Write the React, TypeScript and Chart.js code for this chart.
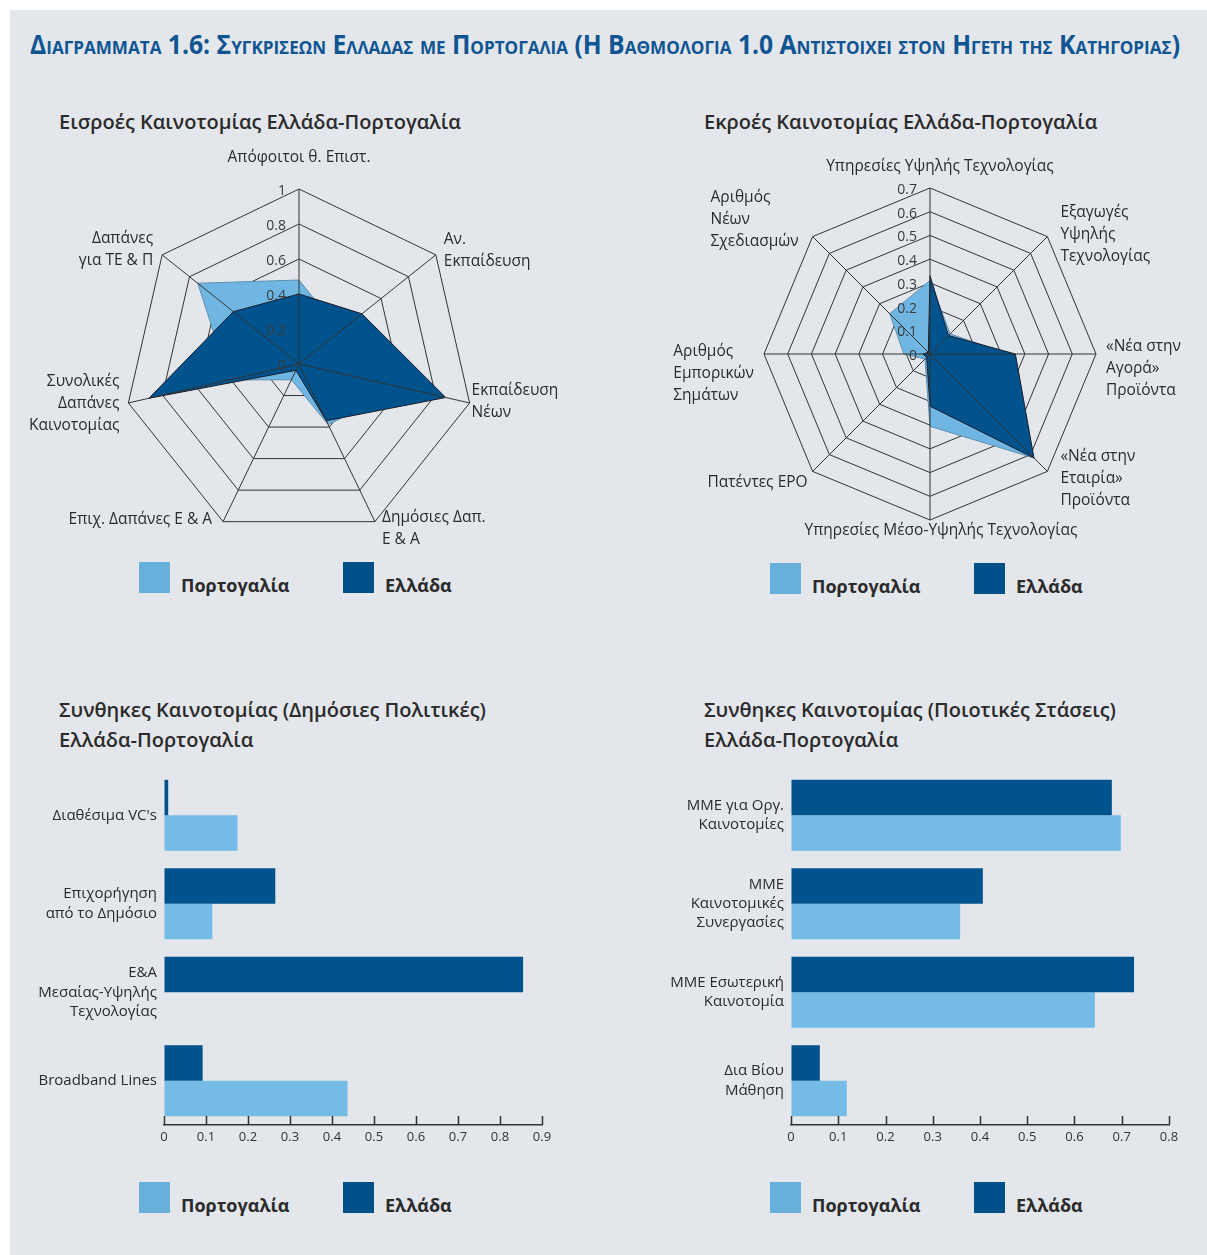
import React, { useEffect, useLayoutEffect, useRef } from "react";
import { Chart, registerables } from "chart.js";
Chart.register(...registerables);

const FONT = "'Open Sans', 'Noto Sans', sans-serif";
const GREECE = "#00538c";
const PORTUGAL = "#74bce6";
const TEXT = "#2b2b2b";
const AXIS = "#333333";

// ---------- Radar 1: inputs ----------
const inputsLabels: string[][] = [
  ["Απόφοιτοι θ. Επιστ."],
  ["Αν.", "Εκπαίδευση"],
  ["Εκπαίδευση", "Νέων"],
  ["Δημόσιες Δαπ.", "Ε & Α"],
  ["Επιχ. Δαπάνες Ε & Α"],
  ["Συνολικές", "Δαπάνες", "Καινοτομίας"],
  ["Δαπάνες", "για ΤΕ & Π"],
];
const inputsGreece = [0.4, 0.46, 0.86, 0.36, 0.04, 0.88, 0.48];
const inputsPortugal = [0.48, 0.3, 0.6, 0.385, 0.1, 0.41, 0.74];
const inputsTickStep = 0.2;
const inputsMax = 1;

// ---------- Radar 2: outputs ----------
const outputsLabels: string[][] = [
  ["Υπηρεσίες Υψηλής Τεχνολογίας"],
  ["Εξαγωγές", "Υψηλής", "Τεχνολογίας"],
  ["«Νέα στην", "Αγορά»", "Προϊόντα"],
  ["«Νέα στην", "Εταιρία»", "Προϊόντα"],
  ["Υπηρεσίες Μέσο-Υψηλής Τεχνολογίας"],
  ["Πατέντες EPO"],
  ["Αριθμός", "Εμπορικών", "Σημάτων"],
  ["Αριθμός", "Νέων", "Σχεδιασμών"],
];
const outputsGreece = [0.33, 0.11, 0.36, 0.62, 0.22, 0.02, 0.03, 0.01];
const outputsPortugal = [0.31, 0.12, 0.33, 0.62, 0.305, 0.03, 0.11, 0.24];
const outputsTickStep = 0.1;
const outputsMax = 0.7;

// ---------- Bar 1: public policies ----------
const policyLabels: string[][] = [
  ["Διαθέσιμα VC's"],
  ["Επιχορήγηση", "από το Δημόσιο"],
  ["Ε&Α", "Μεσαίας-Υψηλής", "Τεχνολογίας"],
  ["Broadband Lines"],
];
const policyGreece = [0.01, 0.265, 0.855, 0.092];
const policyPortugal = [0.175, 0.115, 0, 0.437];
const policyMax = 0.9;

// ---------- Bar 2: qualitative attitudes ----------
const attitudeLabels: string[][] = [
  ["ΜΜΕ για Οργ.", "Καινοτομίες"],
  ["ΜΜΕ", "Καινοτομικές", "Συνεργασίες"],
  ["ΜΜΕ Εσωτερική", "Καινοτομία"],
  ["Δια Βίου", "Μάθηση"],
];
const attitudeGreece = [0.679, 0.406, 0.726, 0.061];
const attitudePortugal = [0.698, 0.358, 0.643, 0.118];
const attitudeMax = 0.8;
const barTickStep = 0.1;

const seriesNames = ["Ελλάδα", "Πορτογαλία"];

// label placement styles (offsets from the vertex of each axis)
type LabelStyle = { h: "L" | "R" | "C"; lines: "left" | "right" | "center"; dx: number; dy: number };
const inputsLabelStyle: LabelStyle[] = [
  { h: "C", lines: "center", dx: 0, dy: -31 },
  { h: "L", lines: "left", dx: 8, dy: -4 },
  { h: "L", lines: "left", dx: 2, dy: -1 },
  { h: "L", lines: "left", dx: 7, dy: 7 },
  { h: "R", lines: "right", dx: -11, dy: -2 },
  { h: "R", lines: "right", dx: -9, dy: 1 },
  { h: "R", lines: "right", dx: -9, dy: -5 },
];
const outputsLabelStyle: LabelStyle[] = [
  { h: "C", lines: "center", dx: 10, dy: -21 },
  { h: "L", lines: "left", dx: 13, dy: -2 },
  { h: "L", lines: "left", dx: 10, dy: 15 },
  { h: "L", lines: "left", dx: 13, dy: 7 },
  { h: "C", lines: "center", dx: 11, dy: 11 },
  { h: "R", lines: "right", dx: -5, dy: 11 },
  { h: "R", lines: "left", dx: -10, dy: 20 },
  { h: "R", lines: "left", dx: -14, dy: -17 },
];

function fmt(v: number) {
  return String(Number(v.toFixed(3)));
}

function radarOverlay(labels: string[][], styles: LabelStyle[]) {
  return {
    id: "radarOverlay",
    afterDatasetsDraw(chart: any) {
      const s = chart.scales.r;
      const ctx = chart.ctx as CanvasRenderingContext2D;
      ctx.save();
      ctx.strokeStyle = AXIS;
      ctx.lineWidth = 1;
      for (let i = 0; i < labels.length; i++) {
        const p = s.getPointPosition(i, s.drawingArea);
        ctx.beginPath();
        ctx.moveTo(s.xCenter, s.yCenter);
        ctx.lineTo(p.x, p.y);
        ctx.stroke();
      }
      ctx.font = `14px ${FONT}`;
      ctx.fillStyle = "#3a3a3a";
      ctx.textAlign = "right";
      ctx.textBaseline = "middle";
      s.ticks.forEach((t: any) => {
        const d = s.getDistanceFromCenterForValue(t.value);
        ctx.fillText(fmt(t.value), s.xCenter - 13, s.yCenter - d + 2);
      });
      ctx.font = `15.5px ${FONT}`;
      ctx.fillStyle = TEXT;
      ctx.textAlign = "left";
      labels.forEach((lines, i) => {
        const p = s.getPointPosition(i, s.drawingArea);
        const st = styles[i];
        const widths = lines.map((l) => ctx.measureText(l).width);
        const bw = Math.max(...widths);
        const ax = p.x + st.dx;
        const cy = p.y + st.dy;
        const left = st.h === "L" ? ax : st.h === "R" ? ax - bw : ax - bw / 2;
        const lh = 22;
        const y0 = cy - ((lines.length - 1) * lh) / 2;
        lines.forEach((ln, k) => {
          let x = left;
          if (st.lines === "right") x = left + bw - widths[k];
          else if (st.lines === "center") x = left + (bw - widths[k]) / 2;
          ctx.fillText(ln, x, y0 + k * lh);
        });
      });
      ctx.restore();
    },
  };
}

function radarConfig(
  labels: string[][],
  greece: number[],
  portugal: number[],
  max: number,
  step: number,
  styles: LabelStyle[],
  padding: { left: number; right: number; top: number; bottom: number }
): any {
  return {
    type: "radar",
    data: {
      labels: labels.map((l) => l.join(" ")),
      datasets: [
        {
          label: seriesNames[0],
          data: greece,
          backgroundColor: GREECE,
          borderColor: "#1b1b2a",
          borderWidth: 1,
          fill: true,
          pointRadius: 0,
          tension: 0,
        },
        {
          label: seriesNames[1],
          data: portugal,
          backgroundColor: "#6fb6e2",
          borderColor: "#5d8fb3",
          borderWidth: 1,
          fill: true,
          pointRadius: 0,
          tension: 0,
        },
      ],
    },
    options: {
      animation: false,
      responsive: false,
      maintainAspectRatio: false,
      layout: { padding },
      plugins: { legend: { display: false }, tooltip: { enabled: false } },
      scales: {
        r: {
          min: 0,
          max,
          ticks: { stepSize: step, display: false },
          pointLabels: { display: false },
          grid: { color: AXIS, lineWidth: 1, circular: false },
          angleLines: { display: false },
        },
      },
    },
    plugins: [radarOverlay(labels, styles)],
  };
}

const upTicks = {
  id: "upTicks",
  afterDraw(chart: any) {
    const s = chart.scales.x;
    const ctx = chart.ctx as CanvasRenderingContext2D;
    ctx.save();
    ctx.strokeStyle = AXIS;
    ctx.lineWidth = 1.5;
    s.ticks.forEach((_t: any, i: number) => {
      const x = Math.round(s.getPixelForTick(i)) + 0.5;
      ctx.beginPath();
      ctx.moveTo(x, s.top);
      ctx.lineTo(x, s.top - 9);
      ctx.stroke();
    });
    ctx.restore();
  },
};

function barConfig(
  labels: string[][],
  greece: number[],
  portugal: number[],
  max: number,
  yWidth: number,
  padRight: number
): any {
  return {
    type: "bar",
    data: {
      labels,
      datasets: [
        { label: seriesNames[0], data: greece, backgroundColor: GREECE, barPercentage: 1, categoryPercentage: 0.8 },
        { label: seriesNames[1], data: portugal, backgroundColor: PORTUGAL, barPercentage: 1, categoryPercentage: 0.8 },
      ],
    },
    options: {
      indexAxis: "y",
      animation: false,
      responsive: false,
      maintainAspectRatio: false,
      layout: { padding: { top: 6, right: padRight, left: 0, bottom: 0 } },
      plugins: { legend: { display: false }, tooltip: { enabled: false } },
      scales: {
        x: {
          min: 0,
          max,
          ticks: {
            stepSize: barTickStep,
            padding: 4,
            color: AXIS,
            font: { family: FONT, size: 13 },
            callback: (v: number) => fmt(v),
          },
          grid: { display: true, drawOnChartArea: false, drawTicks: false },
          border: { display: true, color: AXIS, width: 1.5 },
          afterFit: (s: any) => {
            s.height = 30;
            s.paddingLeft = 0;
            s.paddingRight = 0;
          },
        },
        y: {
          ticks: { padding: 7, color: TEXT, font: { family: FONT, size: 15, lineHeight: 1.27 } },
          grid: { display: false, drawTicks: false },
          border: { display: false },
          afterFit: (s: any) => {
            s.width = yWidth;
            s.paddingTop = 0;
            s.paddingBottom = 0;
          },
        },
      },
    },
    plugins: [upTicks],
  };
}

function ChartBox({ make, left, top, width, height }: any) {
  const ref = useRef<HTMLCanvasElement>(null);
  useEffect(() => {
    const chart = new Chart(ref.current as HTMLCanvasElement, make());
    return () => chart.destroy();
  }, []);
  return (
    <canvas
      ref={ref}
      width={width}
      height={height}
      style={{ position: "absolute", left, top, width, height, display: "block" }}
    />
  );
}

function FitText({ text, left, top, width, style }: any) {
  const ref = useRef<HTMLSpanElement>(null);
  useLayoutEffect(() => {
    const el = ref.current;
    if (!el) return;
    el.style.transform = "none";
    const w = el.getBoundingClientRect().width;
    if (w > 0) el.style.transform = `scaleX(${width / w})`;
  }, []);
  return (
    <span
      ref={ref}
      style={{ position: "absolute", left, top, whiteSpace: "nowrap", transformOrigin: "0 0", display: "inline-block", ...style }}
    >
      {text}
    </span>
  );
}

function Legend({ left, top }: { left: number; top: number }) {
  const sw = 31;
  const txt: React.CSSProperties = {
    position: "absolute",
    top: top + 14,
    fontFamily: FONT,
    fontWeight: 700,
    fontSize: 18,
    lineHeight: "18px",
    color: TEXT,
    whiteSpace: "nowrap",
  };
  return (
    <>
      <div style={{ position: "absolute", left, top, width: sw, height: sw, background: "#68b0dc" }} />
      <div style={{ ...txt, left: left + 42 }}>{seriesNames[1]}</div>
      <div style={{ position: "absolute", left: left + 204, top, width: sw, height: sw, background: "#004f88" }} />
      <div style={{ ...txt, left: left + 246 }}>{seriesNames[0]}</div>
    </>
  );
}

const chartTitle: React.CSSProperties = {
  position: "absolute",
  fontFamily: FONT,
  fontSize: 20,
  fontWeight: 600,
  lineHeight: "30px",
  color: TEXT,
  whiteSpace: "nowrap",
};

export default function App() {
  return (
    <div
      style={{
        position: "absolute",
        left: 10,
        top: 10,
        width: 1197,
        height: 1245,
        background: "#e3e6eb",
        overflow: "hidden",
      }}
    >
      <FitText
        text="Διαγραμματα 1.6: Συγκρισεων Ελλαδας με Πορτογαλια (Η Βαθμολογια 1.0 Αντιστοιχει στον Ηγετη της Κατηγοριας)"
        left={20}
        top={18}
        width={1150}
        style={{
          fontFamily: FONT,
          fontWeight: 700,
          fontSize: 26,
          lineHeight: "32px",
          fontVariant: "small-caps",
          color: "#0f5592",
        }}
      />

      <div style={{ ...chartTitle, left: 49, top: 97 }}>Εισροές Καινοτομίας Ελλάδα-Πορτογαλία</div>
      <div style={{ ...chartTitle, left: 694, top: 97 }}>Εκροές Καινοτομίας Ελλάδα-Πορτογαλία</div>

      <ChartBox
        left={20}
        top={130}
        width={540}
        height={415}
        make={() =>
          radarConfig(inputsLabels, inputsGreece, inputsPortugal, inputsMax, inputsTickStep, inputsLabelStyle, {
            left: 94,
            right: 96,
            top: 49,
            bottom: 16,
          })
        }
      />
      <ChartBox
        left={650}
        top={130}
        width={540}
        height={415}
        make={() =>
          radarConfig(outputsLabels, outputsGreece, outputsPortugal, outputsMax, outputsTickStep, outputsLabelStyle, {
            left: 104,
            right: 104,
            top: 48,
            bottom: 35,
          })
        }
      />

      <Legend left={129} top={552} />
      <Legend left={760} top={553} />

      <div style={{ ...chartTitle, left: 49, top: 685 }}>
        Συνθηκες Καινοτομίας (Δημόσιες Πολιτικές)
        <br />
        Ελλάδα-Πορτογαλία
      </div>
      <div style={{ ...chartTitle, left: 694, top: 685 }}>
        Συνθηκες Καινοτομίας (Ποιοτικές Στάσεις)
        <br />
        Ελλάδα-Πορτογαλία
      </div>

      <ChartBox
        left={10}
        top={755}
        width={540}
        height={390}
        make={() => barConfig(policyLabels, policyGreece, policyPortugal, policyMax, 144, 18)}
      />
      <ChartBox
        left={630}
        top={755}
        width={540}
        height={390}
        make={() => barConfig(attitudeLabels, attitudeGreece, attitudePortugal, attitudeMax, 151, 11)}
      />

      <Legend left={129} top={1172} />
      <Legend left={760} top={1172} />
    </div>
  );
}
